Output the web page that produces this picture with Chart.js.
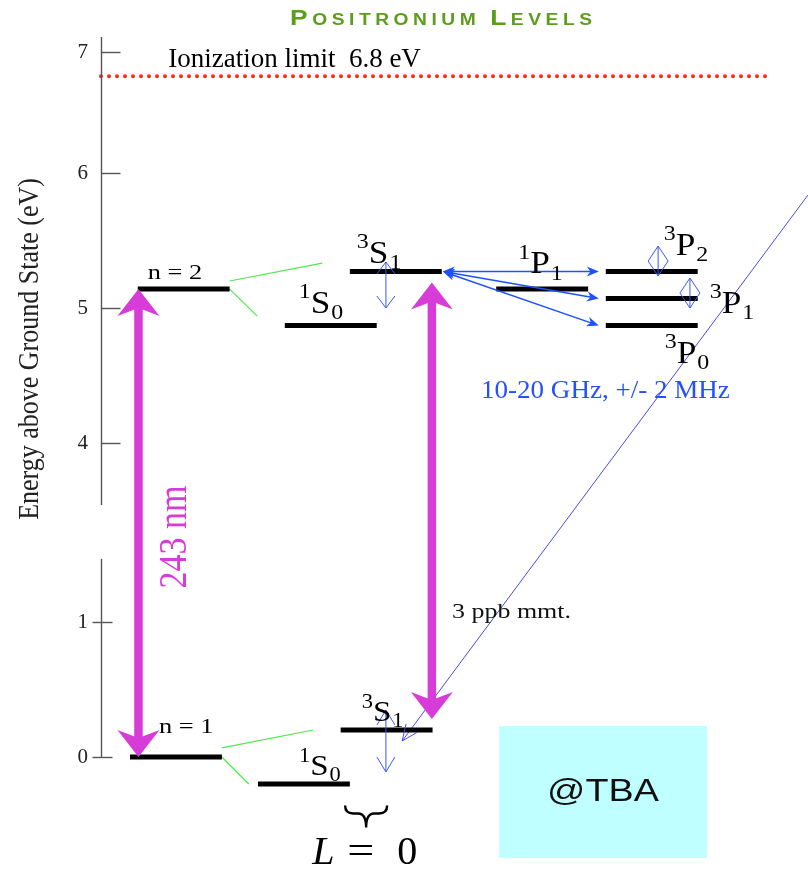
<!DOCTYPE html>
<html><head><meta charset="utf-8">
<script src="https://cdn.jsdelivr.net/npm/chart.js@4/dist/chart.umd.min.js"></script>
<style>html,body{margin:0;padding:0;background:#fff;}canvas{display:block;}</style>
</head><body>
<canvas id="c" width="808" height="871"></canvas>
<script>
// ================= DATA =================
const levelNames    = ['n = 2', '2 1S0', '2 3S1', '2 1P1', '2 3P2', '2 3P1', '2 3P0', 'n = 1', '1 1S0', '1 3S1'];
const levelEnergies = [5.14, 4.87, 5.27, 5.14, 5.27, 5.07, 4.87, 0.0, -0.2, 0.2];   // eV
const yTickValues   = [0, 1, 4, 5, 6, 7];
const yTickLabels   = ['0', '1', '4', '5', '6', '7'];
const ionizationEnergy = 6.8;
const magentaTransitions = [[7, 0], [9, 2]];          // [from level, to level]
const fineStructureTransitions = [[2, 4], [2, 5], [2, 6]];
// ================= LAYOUT =================
const levelX = [5.2, 26.0, 35.2, 55.9, 71.4, 71.4, 71.4, 4.1, 22.2, 33.9]; // left end (x units 0..100)
const LEVEL_W = 13;
const magentaArrowX = [5.3, 46.8];
const magentaInset  = [0, 11];
const greenFans = [ // [from level, to level, start dv, end du (from target left), end dv]
  [0, 2, 0.06, -3.9, 0.063], [0, 1, 0, -3.9, 0.07],
  [7, 9, 0.067, -3.9, 0], [7, 8, 0, -1.3, 0]
];
const hfsMarkers = [ // x, top, bottom (eV), head length, half width
  [40.3, 5.341, 5.0, 12, 9], [40.3, 0.348, -0.111, 15, 9],
  [78.8, 5.459, 5.237, 15, 10], [83.3, 5.222, 5.0, 15, 10]
];
const measurementLine = [{x: 100, y: 5.837}, {x: 42.6, y: 0.119}];
const Y_KNOTS = [[-0.3, 0], [1.5, 243], [3.541, 292.5], [6, 624.5], [7.124, 760.5]];
const AXIS_SEGMENTS = [[0, 1.467], [3.541, 7.124]];

const SERIF = '"Liberation Serif", "Times New Roman", serif';
const SANS = '"Liberation Sans", Arial, sans-serif';

// ---- piecewise (broken) linear y scale ----
function valueToFrac(v) {
  const k = Y_KNOTS, tot = k[k.length - 1][1];
  let i = 0;
  if (v >= k[k.length - 1][0]) i = k.length - 2;
  else if (v > k[0][0]) { while (i < k.length - 2 && v > k[i + 1][0]) i++; }
  const [v0, p0] = k[i], [v1, p1] = k[i + 1];
  return (p0 + (v - v0) / (v1 - v0) * (p1 - p0)) / tot;
}
function fracToValue(f) {
  const k = Y_KNOTS, tot = k[k.length - 1][1], p = f * tot;
  let i = 0;
  if (p >= k[k.length - 1][1]) i = k.length - 2;
  else if (p > k[0][1]) { while (i < k.length - 2 && p > k[i + 1][1]) i++; }
  const [v0, p0] = k[i], [v1, p1] = k[i + 1];
  return v0 + (p - p0) / (p1 - p0) * (v1 - v0);
}
class BrokenLinearScale extends Chart.LinearScale {
  getPixelForValue(value) {
    if (value === null || value === undefined || Number.isNaN(+value)) return NaN;
    return this.getPixelForDecimal(valueToFrac(+value));
  }
  getValueForPixel(pixel) { return fracToValue(this.getDecimalForPixel(pixel)); }
}
BrokenLinearScale.id = 'brokenLinear';
Chart.register(BrokenLinearScale);

// ---- helpers ----
function txt(ctx, s, x, y, o) {
  ctx.save();
  ctx.font = (o.style || 'normal') + ' ' + (o.weight || 'normal') + ' ' + o.size + 'px ' + (o.family || SERIF);
  ctx.fillStyle = o.color || '#000';
  ctx.textAlign = o.align || 'left';
  ctx.textBaseline = o.baseline || 'alphabetic';
  ctx.translate(x, y);
  if (o.rot) ctx.rotate(o.rot);
  ctx.scale(o.sx || 1, o.sy || 1);
  ctx.fillText(s, 0, 0);
  const w = ctx.measureText(s).width * (o.sx || 1);
  ctx.restore();
  return w;
}
function term(ctx, sup, main, sub, x, y, size, sx) {
  let cx = x;
  cx += txt(ctx, sup, cx, y - size * 0.45, {size: size * 0.68, sx});
  cx += txt(ctx, main, cx, y, {size, sx});
  txt(ctx, sub, cx + 1, y + size * 0.2, {size: size * 0.68, sx});
}
function headFilled(ctx, x, y, ang, len, half) {
  const c = Math.cos(ang), s = Math.sin(ang);
  ctx.beginPath();
  ctx.moveTo(x, y);
  ctx.lineTo(x - c * len - s * half, y - s * len + c * half);
  ctx.lineTo(x - c * len * 0.7, y - s * len * 0.7);
  ctx.lineTo(x - c * len + s * half, y - s * len - c * half);
  ctx.closePath(); ctx.fill();
}
function headOpen(ctx, x, y, ang, len, half) {
  const c = Math.cos(ang), s = Math.sin(ang);
  ctx.beginPath();
  ctx.moveTo(x - c * len - s * half, y - s * len + c * half);
  ctx.lineTo(x, y);
  ctx.lineTo(x - c * len + s * half, y - s * len - c * half);
  ctx.stroke();
}
function fatArrow(ctx, x, yTop, yBot, color) {
  const L = 27, W = 21, N = 19, SW = 8.5;
  ctx.fillStyle = color;
  ctx.fillRect(x - SW / 2, yTop + N - 1, SW, (yBot - N + 1) - (yTop + N - 1));
  ctx.beginPath(); ctx.moveTo(x, yTop); ctx.lineTo(x + W, yTop + L); ctx.lineTo(x, yTop + N); ctx.lineTo(x - W, yTop + L); ctx.closePath(); ctx.fill();
  ctx.beginPath(); ctx.moveTo(x, yBot); ctx.lineTo(x + W, yBot - L); ctx.lineTo(x, yBot - N); ctx.lineTo(x - W, yBot - L); ctx.closePath(); ctx.fill();
}

const diagramPlugin = {
  id: 'diagram',
  afterDatasetsDraw(chart) {
    const ctx = chart.ctx, xs = chart.scales.x, ys = chart.scales.y, ca = chart.chartArea;
    const X = u => xs.getPixelForValue(u), Y = v => ys.getPixelForValue(v);
    ctx.save();
    // ---- broken axis line and ticks ----
    const ax = ca.left + 0.5;
    ctx.strokeStyle = '#555'; ctx.lineWidth = 1.4;
    AXIS_SEGMENTS.forEach(([a, b]) => { ctx.beginPath(); ctx.moveTo(ax, Y(a)); ctx.lineTo(ax, Y(b)); ctx.stroke(); });
    yTickValues.forEach(v => {
      const py = Math.round(Y(v)) + 0.5;
      ctx.beginPath();
      if (v >= 3) { ctx.moveTo(ax, py); ctx.lineTo(ax + 19, py); }
      else { ctx.moveTo(ax - 9, py); ctx.lineTo(ax + 11, py); }
      ctx.stroke();
    });
    // ---- axis title ----
    txt(ctx, 'Energy above Ground State (eV)', ca.left - 71, ca.top + 312,
        {size: 26, rot: -Math.PI / 2, align: 'center', baseline: 'middle', color: '#222', sy: 1.1});
    // ---- magenta transitions (243 nm) ----
    magentaTransitions.forEach(([f, t], i) => {
      const x = X(magentaArrowX[i]);
      const yTop = Y(levelEnergies[t]) + magentaInset[i];
      const yBot = Y(levelEnergies[f]) - magentaInset[i];
      fatArrow(ctx, x, yTop, yBot, '#d83cd8');
    });
    const xl = X(magentaArrowX[0]);
    const ymid = (Y(levelEnergies[0]) + Y(levelEnergies[7])) / 2;
    txt(ctx, '243 nm', xl + 37, ymid + 14, {size: 34, rot: -Math.PI / 2, align: 'center', baseline: 'middle', color: '#d83cd8', sy: 1.15});
    // ---- fine-structure transitions (blue) ----
    ctx.strokeStyle = '#1e50ff'; ctx.fillStyle = '#1e50ff'; ctx.lineWidth = 1.5;
    fineStructureTransitions.forEach(([f, t]) => {
      const x1 = X(levelX[f] + LEVEL_W) + 1, y1 = Y(levelEnergies[f]);
      const x2 = X(levelX[t]) - 7, y2 = Y(levelEnergies[t]);
      const ang = Math.atan2(y2 - y1, x2 - x1);
      ctx.beginPath(); ctx.moveTo(x1 + 6 * Math.cos(ang), y1 + 6 * Math.sin(ang));
      ctx.lineTo(x2 - 6 * Math.cos(ang), y2 - 6 * Math.sin(ang)); ctx.stroke();
      headFilled(ctx, x2, y2, ang, 12, 5);
      headFilled(ctx, x1, y1, ang + Math.PI, 12, 5);
    });
    // ---- hyperfine splitting markers ----
    ctx.strokeStyle = '#3a58f0'; ctx.lineWidth = 1;
    hfsMarkers.forEach(([u, v1, v2, len, half]) => {
      const x = X(u), y1 = Y(v1), y2 = Y(v2);
      ctx.beginPath(); ctx.moveTo(x, y1); ctx.lineTo(x, y2); ctx.stroke();
      headOpen(ctx, x, y1, -Math.PI / 2, len, half);
      headOpen(ctx, x, y2, Math.PI / 2, len, half);
    });
    // measurement line arrow head
    {
      const p1 = measurementLine[0], p2 = measurementLine[1];
      const x1 = X(p1.x), y1 = Y(p1.y), x2 = X(p2.x), y2 = Y(p2.y);
      ctx.strokeStyle = '#4a4ae8';
      headOpen(ctx, x2, y2, Math.atan2(y2 - y1, x2 - x1), 16, 7);
    }
    // ---- labels ----
    txt(ctx, 'Ionization limit  6.8 eV', X(9.5), Y(ionizationEnergy) - 9, {size: 27});
    txt(ctx, levelNames[0], X(levelX[0]) + 10, Y(levelEnergies[0]) - 10, {size: 22, sx: 1.2});
    txt(ctx, levelNames[7], X(levelX[7]) + 29, Y(levelEnergies[7]) - 24, {size: 22, sx: 1.2});
    const terms = [
      [1, '1', 'S', '0', 14, -13, 32], [2, '3', 'S', '1', 7, -9, 32],
      [3, '1', 'P', '1', 22, -16, 32], [4, '3', 'P', '2', 58, -17, 32],
      [5, '3', 'P', '1', 104, 14, 32], [6, '3', 'P', '0', 59, 37, 32],
      [8, '1', 'S', '0', 41, -9, 30], [9, '3', 'S', '1', 21, -9, 30]
    ];
    terms.forEach(([li, a, b, c, dx, dy, sz]) => term(ctx, a, b, c, X(levelX[li]) + dx, Y(levelEnergies[li]) + dy, sz, 1.1));
    txt(ctx, '10-20 GHz, +/- 2 MHz', X(53.75), Y(4.333), {size: 26, sx: 1.04, color: '#2650ff'});
    txt(ctx, '3 ppb mmt.', X(49.65), Y(1.03), {size: 22, sx: 1.18, color: '#111'});
    // ---- L = 0 with under-brace ----
    const bx = X(37.5), by = ca.bottom + 8;
    ctx.strokeStyle = '#000'; ctx.lineWidth = 2.4;
    const hw = 21, r = 8;
    ctx.beginPath();
    ctx.moveTo(bx - hw, by);
    ctx.quadraticCurveTo(bx - hw, by + r, bx - hw + r, by + r);
    ctx.lineTo(bx - r, by + r);
    ctx.quadraticCurveTo(bx, by + r, bx, by + 2 * r + 6);
    ctx.quadraticCurveTo(bx, by + r, bx + r, by + r);
    ctx.lineTo(bx + hw - r, by + r);
    ctx.quadraticCurveTo(bx + hw, by + r, bx + hw, by);
    ctx.stroke();
    txt(ctx, 'L', bx - 54, by + 58, {size: 40, style: 'italic'});
    txt(ctx, '=', bx - 19, by + 58, {size: 40, sx: 1.2});
    txt(ctx, '0', bx + 31, by + 58, {size: 40});
    // ---- @TBA box ----
    ctx.fillStyle = '#bfffff';
    ctx.fillRect(ca.left + 398, ca.bottom - 71.5, 208, 132);
    txt(ctx, '@TBA', ca.left + 502, ca.bottom - 5, {size: 32, family: SANS, sx: 1.18, align: 'center', baseline: 'middle', color: '#111'});
    // ---- title ----
    {
      const title = 'Positronium Levels', sx = 1.2, big = 22, small = 16, target = 302;
      const chars = title.split('').map(ch => {
        const isBig = ch === ch.toUpperCase() && ch !== ' ';
        const size = isBig ? big : small;
        ctx.font = 'bold ' + size + 'px ' + SANS;
        return {c: ch.toUpperCase(), size, w: ctx.measureText(ch.toUpperCase()).width * sx};
      });
      const sum = chars.reduce((a, b) => a + b.w, 0);
      const sp = (target - sum) / (chars.length - 1);
      let x = 441 - target / 2;
      chars.forEach(ch => { txt(ctx, ch.c, x, 25, {size: ch.size, weight: 'bold', family: SANS, sx, color: '#5c9e1c'}); x += ch.w + sp; });
    }
    ctx.restore();
  }
};

// ---- datasets ----
const datasets = [];
levelEnergies.forEach((e, i) => datasets.push({
  label: levelNames[i],
  data: [{x: levelX[i], y: e}, {x: levelX[i] + LEVEL_W, y: e}],
  borderColor: '#000', borderWidth: 5, pointRadius: 0, borderCapStyle: 'butt', clip: false
}));
greenFans.forEach(([f, t, sdv, edu, edv]) => datasets.push({
  label: 'fan',
  data: [{x: levelX[f] + LEVEL_W, y: levelEnergies[f] + sdv}, {x: levelX[t] + edu, y: levelEnergies[t] + edv}],
  borderColor: '#4ee84e', borderWidth: 1.2, pointRadius: 0, clip: false
}));
datasets.push({
  label: 'Ionization limit',
  data: [{x: 0, y: ionizationEnergy}, {x: 94.1, y: ionizationEnergy}],
  borderColor: '#f52b1b', borderWidth: 4, borderDash: [0, 8], borderCapStyle: 'round', pointRadius: 0, clip: false
});
datasets.push({
  label: 'measurement',
  data: measurementLine,
  borderColor: '#4a4ae8', borderWidth: 1, pointRadius: 0, clip: false
});

new Chart(document.getElementById('c'), {
  type: 'line',
  data: {datasets},
  plugins: [diagramPlugin],
  options: {
    responsive: false, animation: false, devicePixelRatio: 1,
    layout: {padding: {top: 37, bottom: 73.5, left: 0, right: 0}},
    plugins: {legend: {display: false}, tooltip: {enabled: false}, title: {display: false}},
    scales: {
      x: {type: 'linear', min: 0, max: 100, display: false},
      y: {
        type: 'brokenLinear', min: -0.3, max: 7.124, position: 'left',
        grid: {display: false, drawTicks: false}, border: {display: false},
        afterBuildTicks: s => { s.ticks = yTickValues.map(v => ({value: v})); },
        afterFit: s => { s.width = 101; },
        ticks: {autoSkip: false, padding: 13, color: '#222',
                font: {family: SERIF, size: 21},
                callback: (v) => yTickLabels[yTickValues.indexOf(v)] ?? String(v)}
      }
    }
  }
});
</script>
</body></html>
